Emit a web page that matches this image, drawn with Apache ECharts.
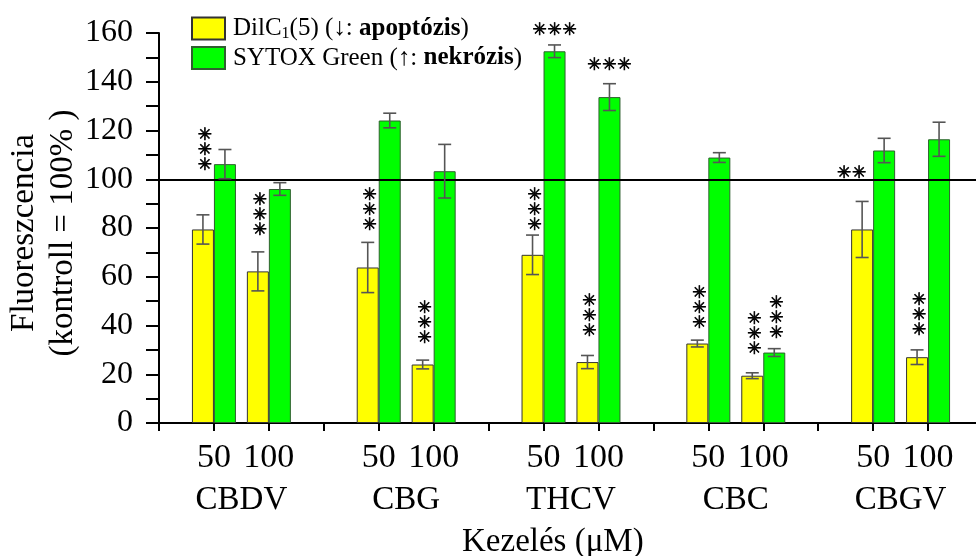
<!DOCTYPE html>
<html>
<head>
<meta charset="utf-8">
<script src="https://cdn.jsdelivr.net/npm/echarts@6/dist/echarts.min.js"></script>
<style>
  html, body { margin: 0; padding: 0; background: #fff; }
  #chart { width: 976px; height: 556px; }
</style>
</head>
<body>
<div id="chart"></div>
<script>
// Treatments and concentrations (µM)
const compounds = ['CBDV', 'CBG', 'THCV', 'CBC', 'CBGV'];
const concentrations = ['50', '100'];

// Fluorescence relative to control (%), order: CBDV 50, CBDV 100, CBG 50, CBG 100, ...
const dilcMean  = [79.4, 62.2, 63.8, 24.0, 69.0, 25.0, 32.6, 19.4, 79.4, 27.0];
const dilcErr   = [6.0, 8.0, 10.3, 1.8, 8.1, 2.7, 1.4, 1.2, 11.5, 3.0];
const sytoxMean = [106.2, 96.0, 124.1, 103.3, 152.5, 133.7, 108.9, 28.9, 111.8, 116.4];
const sytoxErr  = [6.0, 2.6, 3.0, 11.0, 2.6, 5.5, 2.0, 1.6, 5.0, 7.0];

// Significance marks: bar index, series (0 = DilC1(5), 1 = SYTOX Green), stars, level of the mark
const sigBar    = [0, 1, 2, 3, 4, 4, 5, 5, 6, 7, 7, 8, 9];
const sigSeries = [0, 0, 0, 0, 0, 1, 0, 1, 0, 0, 1, 0, 0];
const sigText   = ['***', '***', '***', '***', '***', '***', '***', '***', '***', '***', '***', '**', '***'];
const sigLevel  = [103, 76.2, 78.3, 31.9, 78.3, 158.5, 34.8, 144.1, 38.1, 27.4, 33.9, 99.6, 35.2];
const sigOrient = ['v', 'v', 'v', 'v', 'v', 'h', 'v', 'h', 'v', 'v', 'v', 'hl', 'v'];

const controlLevel = 100;

const FONT = "'Liberation Serif', 'Times New Roman', Times, serif";
const BAR_W = 22;
const STAR_STEP = 15;

// Category slots: an empty slot before each compound, then 50 and 100
const slots = [];
compounds.forEach(() => { slots.push('', concentrations[0], concentrations[1]); });
slots.push('');
const slotOf = b => 1 + 3 * Math.floor(b / 2) + (b % 2);

// Half-step slots carrying the compound names between their two concentrations
const nameSlots = new Array(slots.length * 2 - 1).fill('');
compounds.forEach((c, g) => { nameSlots[2 * (1 + 3 * g) + 1] = c; });

function barData(means) {
  const d = new Array(slots.length).fill('-');
  means.forEach((v, b) => { d[slotOf(b)] = v; });
  return d;
}
function errData(means, errs) {
  return means.map((v, b) => [slotOf(b), v, errs[b]]);
}

function errRender(side) {
  return function (params, api) {
    const i = api.value(0), m = api.value(1), e = api.value(2);
    const hi = api.coord([i, m + e]);
    const lo = api.coord([i, m - e]);
    const x = hi[0] + side * BAR_W / 2;
    const cap = 6.5;
    const st = { stroke: '#555', lineWidth: 1.6 };
    return {
      type: 'group',
      children: [
        { type: 'line', shape: { x1: x, y1: hi[1], x2: x, y2: lo[1] }, style: st },
        { type: 'line', shape: { x1: x - cap, y1: hi[1], x2: x + cap, y2: hi[1] }, style: st },
        { type: 'line', shape: { x1: x - cap, y1: lo[1], x2: x + cap, y2: lo[1] }, style: st }
      ]
    };
  };
}

const sigData = sigBar.map((b, k) => [slotOf(b), sigLevel[k], sigSeries[k], k]);

// Each star is its own text element so the spacing of a mark is even
function sigRender(params, api) {
  const k = api.value(3);
  const side = api.value(2) === 0 ? -1 : 1;
  const p = api.coord([api.value(0), api.value(1)]);
  const orient = sigOrient[k];
  const chars = sigText[k].split('');
  const n = chars.length;
  const cx = p[0] + side * BAR_W / 2;
  const cyBottom = p[1] - 6.5;
  const children = chars.map((ch, j) => {
    let x, y;
    if (orient === 'v') {
      x = cx + 2;
      y = cyBottom - (n - 1 - j) * STAR_STEP;
    } else if (orient === 'h') {
      x = cx + (j - (n - 1) / 2) * STAR_STEP;
      y = cyBottom;
    } else {
      x = cx - 3 - (n - 1 - j) * STAR_STEP;
      y = cyBottom;
    }
    return {
      type: 'text',
      style: {
        text: ch === '*' ? '✳' : ch,
        x: x,
        y: y,
        align: 'center',
        verticalAlign: 'middle',
        font: '17px "DejaVu Sans"',
        fill: '#000',
        stroke: '#000',
        lineWidth: 0.7
      }
    };
  });
  return { type: 'group', children: children };
}

const chart = echarts.init(document.getElementById('chart'), null, { renderer: 'canvas' });

chart.setOption({
  animation: false,
  backgroundColor: '#fff',
  textStyle: { fontFamily: FONT, color: '#000' },
  grid: { left: 159, top: 33, right: -7, bottom: 133, containLabel: false, outerBoundsMode: 'none' },
  legend: {
    orient: 'vertical',
    left: 186,
    top: 11,
    icon: 'rect',
    itemWidth: 33,
    itemHeight: 22,
    itemGap: 4,
    selectedMode: false,
    data: ['DilC1(5)', 'SYTOX Green'],
    formatter: function (name) {
      if (name === 'DilC1(5)') {
        return '{n|DilC}{s|1}{n|(5) (↓: }{b|apoptózis}{n|)}';
      }
      return '{n|SYTOX Green (↑: }{b|nekrózis}{n|)}';
    },
    textStyle: {
      fontFamily: FONT,
      fontSize: 25,
      color: '#000',
      padding: [0, 0, 0, 3],
      rich: {
        n: { fontFamily: FONT, fontSize: 25, color: '#000', lineHeight: 26 },
        b: { fontFamily: FONT, fontSize: 25, color: '#000', fontWeight: 'bold', lineHeight: 26 },
        s: { fontFamily: FONT, fontSize: 16, color: '#000', lineHeight: 26, verticalAlign: 'bottom', padding: [8, 0, 0, 0] }
      }
    }
  },
  xAxis: [
    {
      type: 'category',
      data: slots,
      boundaryGap: false,
      position: 'bottom',
      axisLine: { show: true, lineStyle: { color: '#000', width: 2 } },
      axisTick: { show: true, interval: 0, length: 8, lineStyle: { color: '#000', width: 2 } },
      axisLabel: { interval: 0, fontFamily: FONT, fontSize: 34, color: '#000', margin: 18 },
      splitLine: { show: false }
    },
    {
      type: 'category',
      data: nameSlots,
      boundaryGap: false,
      position: 'bottom',
      axisLine: { show: false },
      axisTick: { show: false },
      axisLabel: { interval: 0, fontFamily: FONT, fontSize: 33, color: '#000', margin: 61 },
      splitLine: { show: false }
    }
  ],
  yAxis: {
    type: 'value',
    min: 0,
    max: 160,
    interval: 10,
    name: 'Fluoreszcencia\n(kontroll = 100% )',
    nameLocation: 'middle',
    nameRotate: 90,
    nameGap: 76,
    nameMoveOverlap: false,
    nameTextStyle: { fontFamily: FONT, fontSize: 33, color: '#000', lineHeight: 39, padding: [0, 10, 0, 0] },
    axisLine: { show: true, lineStyle: { color: '#000', width: 2 } },
    axisTick: { show: true, length: 13, lineStyle: { color: '#000', width: 2 } },
    axisLabel: {
      fontFamily: FONT, fontSize: 32, color: '#000', margin: 26,
      formatter: v => (v % 20 === 0 ? String(v) : '')
    },
    splitLine: { show: false }
  },
  graphic: [
    {
      type: 'text',
      left: 462,
      top: 526,
      style: { text: 'Kezelés (μM)', font: '33px ' + FONT, fill: '#000' }
    }
  ],
  series: [
    {
      name: 'DilC1(5)',
      type: 'bar',
      data: barData(dilcMean),
      barWidth: BAR_W,
      barGap: '0%',
      itemStyle: { color: '#ffff00', borderColor: '#333', borderWidth: 1 },
      z: 2
    },
    {
      name: 'SYTOX Green',
      type: 'bar',
      data: barData(sytoxMean),
      barWidth: BAR_W,
      barGap: '0%',
      itemStyle: { color: '#00ff00', borderColor: '#2f5f2f', borderWidth: 1 },
      z: 2,
      markLine: {
        silent: true,
        symbol: ['none', 'none'],
        label: { show: false },
        lineStyle: { color: '#000', width: 2, type: 'solid' },
        data: [{ yAxis: controlLevel }],
        z: 4
      }
    },
    {
      type: 'custom',
      renderItem: errRender(-1),
      data: errData(dilcMean, dilcErr),
      z: 5,
      silent: true
    },
    {
      type: 'custom',
      renderItem: errRender(1),
      data: errData(sytoxMean, sytoxErr),
      z: 5,
      silent: true
    },
    {
      type: 'custom',
      renderItem: sigRender,
      data: sigData,
      z: 6,
      silent: true,
      clip: false
    }
  ]
});
</script>
</body>
</html>
